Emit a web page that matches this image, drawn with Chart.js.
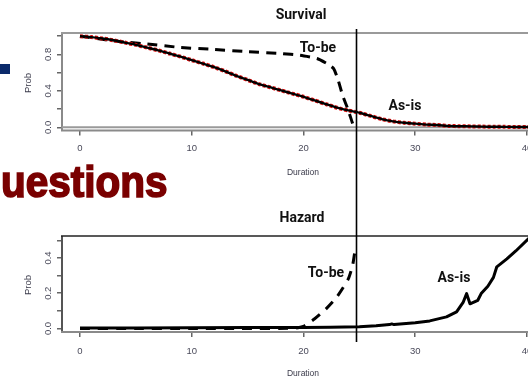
<!DOCTYPE html>
<html>
<head>
<meta charset="utf-8">
<script src="https://cdn.jsdelivr.net/npm/chart.js@4.4.1/dist/chart.umd.min.js"></script>
<style>
  html,body{margin:0;padding:0;background:#fff;overflow:hidden;}
  #wrap{position:relative;width:528px;height:381px;overflow:hidden;background:#fff;}
  canvas{position:absolute;left:0;}
  .t{position:absolute;white-space:nowrap;transform:translate(-50%,-50%);line-height:1;}
  .ttl{font-family:Roboto,"Liberation Sans",sans-serif;font-weight:700;font-size:14px;color:#111;}
  .ax{font-family:"Liberation Sans",Arial,sans-serif;font-size:8.5px;color:#3a3a4a;}
  .prob{font-family:"Liberation Sans",Arial,sans-serif;font-size:9.5px;color:#3a3a4a;transform:translate(-50%,-50%) rotate(-90deg);}
  #q{position:absolute;left:1px;top:160px;font-family:"Liberation Sans",Arial,sans-serif;font-weight:700;font-size:42px;color:#7a0000;letter-spacing:0;line-height:1;transform-origin:0 0;transform:scale(0.965,1.07);-webkit-text-stroke:1.6px #7a0000;}
  #blue{position:absolute;left:0;top:64px;width:10px;height:10px;background:#0b2a6b;}
</style>
</head>
<body>
<div id="wrap">
  <canvas id="c1" width="550" height="190" style="top:0"></canvas>
  <canvas id="c2" width="550" height="191" style="top:190px"></canvas>
  <div id="blue"></div>
  <div id="q">uestions</div>
  <div class="t ttl" style="left:301px;top:14px">Survival</div>
  <div class="t ttl" style="left:318px;top:47px">To-be</div>
  <div class="t ttl" style="left:405px;top:105px">As-is</div>
  <div class="t ax" style="left:303px;top:172px">Duration</div>
  <div class="t prob" style="left:28px;top:83px">Prob</div>
  <div class="t ttl" style="left:302px;top:217px">Hazard</div>
  <div class="t ttl" style="left:326px;top:272px">To-be</div>
  <div class="t ttl" style="left:454px;top:277px">As-is</div>
  <div class="t ax" style="left:303px;top:373px">Duration</div>
  <div class="t prob" style="left:28px;top:285px">Prob</div>
</div>
<script>
// ---- data ----
const xTicks = [0, 10, 20, 30, 40];
const survYTicks = [0, 0.2, 0.4, 0.6, 0.8, 1.0];
const survYLabels = ['0.0', '', '0.4', '', '0.8', ''];
const hazYTicks = [0, 0.1, 0.2, 0.3, 0.4, 0.5];
const hazYLabels = ['0.0', '', '0.2', '', '0.4', ''];
const cutoffDuration = 24.7;

const survAsIsT = [0,1,2,3,4,5,6,7,8,9,10,11,12,13,14,15,16,17,18,19,20,21,22,23,24,25,26,27,28,29,30,31,32,33,34,35,36,37,38,39,40,41.5];
const survAsIsP = [1.0,0.99,0.975,0.955,0.93,0.905,0.875,0.845,0.81,0.775,0.737,0.70,0.66,0.615,0.565,0.52,0.475,0.44,0.405,0.37,0.335,0.295,0.255,0.215,0.185,0.16,0.125,0.09,0.065,0.05,0.04,0.03,0.025,0.015,0.012,0.01,0.008,0.006,0.005,0.004,0.003,0.003];

const survToBeT = [0,2,4,6,9,12,15,18,19.7,21.2,22.1,22.7,23.1,23.5,24.0,24.4,24.55];
const survToBeP = [1.0,0.965,0.935,0.915,0.876,0.855,0.83,0.81,0.79,0.755,0.70,0.645,0.52,0.35,0.19,0.04,0.0];

const hazAsIsT = [0,5,10,15,20,22.4,25,26.5,27.7,27.9,28.1,30,31.3,32.8,33.7,34.3,34.6,34.9,35.6,35.9,36.5,37.0,37.3,38.2,39.0,40.3];
const hazAsIsP = [0.003,0.003,0.004,0.005,0.006,0.007,0.01,0.015,0.022,0.026,0.022,0.032,0.043,0.066,0.094,0.15,0.198,0.14,0.16,0.198,0.24,0.29,0.35,0.395,0.44,0.52];

const hazToBeT = [0,5,10,15,19,19.5,20,21,22,23,24,24.4,24.65];
const hazToBeP = [0,0,0,0,0.001,0.004,0.012,0.055,0.11,0.18,0.28,0.36,0.46];

const pts = (t, p) => t.map((v, i) => ({x: v, y: p[i]}));

function framePlugin(boxColor, bottomColor, topColor, zeroLine) {
  return {
    id: 'frame',
    beforeDatasetsDraw(chart) {
      const {ctx, chartArea: a, scales} = chart;
      ctx.save();
      ctx.lineWidth = 2;
      ctx.strokeStyle = boxColor;
      ctx.beginPath();
      ctx.moveTo(a.left, a.bottom); ctx.lineTo(a.left, a.top);
      ctx.moveTo(a.right, a.top); ctx.lineTo(a.right, a.bottom);
      ctx.stroke();
      ctx.strokeStyle = topColor;
      ctx.lineWidth = topColor === '#222' ? 1.5 : 2;
      ctx.beginPath(); ctx.moveTo(a.left - 1, a.top); ctx.lineTo(a.right, a.top); ctx.stroke();
      ctx.strokeStyle = bottomColor;
      ctx.lineWidth = 2;
      ctx.beginPath(); ctx.moveTo(a.left - 1, a.bottom); ctx.lineTo(a.right, a.bottom); ctx.stroke();
      if (zeroLine) {
        const y0 = scales.y.getPixelForValue(0);
        ctx.strokeStyle = '#9a9a9a';
        ctx.lineWidth = 2;
        ctx.beginPath(); ctx.moveTo(a.left, y0); ctx.lineTo(a.right, y0); ctx.stroke();
      }
      ctx.restore();
    }
  };
}

function vlinePlugin(y1, y2) {
  return {
    id: 'vline',
    afterDraw(chart) {
      const {ctx, scales} = chart;
      const x = Math.round(scales.x.getPixelForValue(cutoffDuration)) + 0.5;
      ctx.save();
      ctx.strokeStyle = '#000';
      ctx.lineWidth = 1.6;
      ctx.beginPath(); ctx.moveTo(x, y1); ctx.lineTo(x, y2); ctx.stroke();
      ctx.restore();
    }
  };
}

function baseScales(yMin, yMax, yTicks, yLabels, xHeight, xPad) {
  return {
    x: {
      type: 'linear', min: -1.61, max: 42.06, position: 'bottom',
      afterFit: s => { s.height = xHeight; },
      afterBuildTicks: s => { s.ticks = xTicks.map(v => ({value: v})); },
      ticks: {font: {family: 'Liberation Sans', size: 9.5}, color: '#4a4a5a', padding: xPad, maxRotation: 0, autoSkip: false,
              callback: v => String(v)},
      grid: {drawOnChartArea: false, tickLength: 5, color: '#666', lineWidth: 1.5},
      border: {display: false}
    },
    y: {
      type: 'linear', min: yMin, max: yMax,
      afterFit: s => { s.width = 62; },
      afterBuildTicks: s => { s.ticks = yTicks.map(v => ({value: v})); },
      ticks: {font: {family: 'Liberation Sans', size: 9.5}, color: '#4a4a5a', padding: 2, minRotation: 90, maxRotation: 90,
              crossAlign: 'center', autoSkip: false,
              callback: (v, i) => yLabels[i]},
      grid: {drawOnChartArea: false, tickLength: 5, color: '#666', lineWidth: 1.5},
      border: {display: false}
    }
  };
}

const common = {
  responsive: false, animation: false, devicePixelRatio: 1,
  plugins: {legend: {display: false}, tooltip: {enabled: false}},
  elements: {point: {radius: 0}, line: {tension: 0.2, borderCapStyle: 'butt', borderJoinStyle: 'round'}}
};

new Chart(document.getElementById('c1'), {
  type: 'line',
  data: {
    datasets: [
      {data: pts(survAsIsT, survAsIsP), borderColor: '#000', borderWidth: 2.4, fill: false},
      {data: pts(survAsIsT, survAsIsP), borderColor: '#e01010', borderWidth: 4, borderDash: [3, 2], fill: false},
      {data: pts(survToBeT, survToBeP), borderColor: '#000', borderWidth: 3, borderDash: [10, 7], fill: false, tension: 0.15}
    ]
  },
  options: Object.assign({}, common, {
    layout: {padding: {top: 33, left: 0, right: 0, bottom: 0}},
    scales: baseScales(-0.035, 1.035, survYTicks, survYLabels, 59.5, 7)
  }),
  plugins: [framePlugin('#8a8a8a', '#8a8a8a', '#9a9a9a', true), vlinePlugin(29, 190)]
});

new Chart(document.getElementById('c2'), {
  type: 'line',
  data: {
    datasets: [
      {data: pts(hazAsIsT, hazAsIsP), borderColor: '#000', borderWidth: 3, fill: false, tension: 0},
      {data: pts(hazToBeT, hazToBeP), borderColor: '#000', borderWidth: 3, borderDash: [10, 8], fill: false, tension: 0.2}
    ]
  },
  options: Object.assign({}, common, {
    layout: {padding: {top: 46, left: 0, right: 0, bottom: 0}},
    scales: baseScales(-0.02, 0.525, hazYTicks, hazYLabels, 191 - 142, 9)
  }),
  plugins: [framePlugin('#555', '#8a8a8a', '#222', false), vlinePlugin(0, 152)]
});
</script>
</body>
</html>
